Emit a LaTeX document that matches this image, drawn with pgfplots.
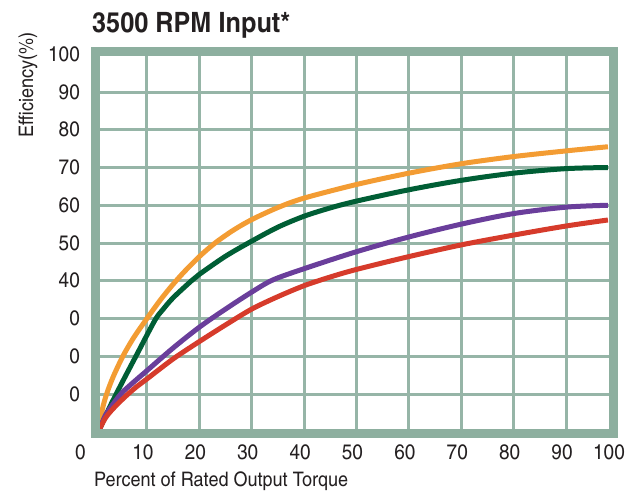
\documentclass[border=0pt]{standalone}
\usepackage{fontspec}
\setmainfont{texgyreheroscn-regular.otf}[FakeStretch=1.1, BoldFont=texgyreheroscn-bold.otf]
\usepackage{pgfplots}
\pgfplotsset{compat=1.18}

\definecolor{framec}{HTML}{8DAF9F}
\definecolor{gridc}{HTML}{96B5A7}
\definecolor{txt}{HTML}{231F20}
\definecolor{orangec}{HTML}{F39C33}
\definecolor{greenc}{HTML}{005E35}
\definecolor{purplec}{HTML}{6A3E9B}
\definecolor{redc}{HTML}{D63B2B}

\begin{document}
\begin{tikzpicture}[x=1pt,y=1pt]
\path[use as bounding box] (0,0) rectangle (640,492);
\begin{axis}[
    at={(95pt,58.5pt)}, anchor=south west,
    scale only axis, width=518pt, height=381.5pt,
    xmin=0.08, xmax=98.97, ymin=-0.46, ymax=100.6,
    clip=false,
    axis line style={draw=none},
    major tick length=0pt,
    grid=major,
    major grid style={gridc, line width=3pt},
    xtick={0.08,10,20,30,40,50,60,70,80,90,98.97},
    xticklabels={0\phantom{00},10,20,30,40,50,60,70,80,90,100},
    ytick={10,20,30,40,50,60,70,80,90,100},
    yticklabels={0,0,0,40,50,60,70,80,90,100},
    /pgf/number format/assume math mode=true,
    xticklabel style={font=\fontsize{21}{24}\selectfont, text=txt, anchor=base, inner sep=0pt, xshift=-4pt, yshift=-26.5pt},
    yticklabel style={font=\fontsize{21}{24}\selectfont, text=txt, anchor=east, inner sep=0pt, xshift=-15pt},
    every axis plot/.append style={line width=5pt, smooth},
]
% orange
\addplot[orangec] coordinates {
 (1,0.8) (1.5,6) (2.3,10) (3.5,14.4) (5.4,20) (7.5,25) (10,30) (12.5,34.8)
 (14.7,38.6) (17,42.2) (20,46.4) (23,50) (26.5,53.4) (30,56.2) (35,59.4)
 (40,61.9) (50,65.5) (60,68.5) (70,71) (80,72.9) (90,74.4) (98,75.5)};
% green
\addplot[greenc] coordinates {
 (1,0.8) (2.9,6.6) (5.5,13.7) (8,20.3) (11.5,29.5) (13,32.3) (15,35.5)
 (18.5,40) (20,41.7) (25,46.5) (30,50.5) (35,54.2) (40,57.1) (45,59.3)
 (50,61.1) (60,64.1) (70,66.6) (80,68.5) (90,69.7) (98,70)};
% purple
\addplot[purplec] coordinates {
 (1,0.8) (2,4.2) (3,6.3) (5,10) (7,12.6) (10,16.2) (15,22.2) (20,27.7)
 (25,32.5) (30,37) (34,40.2) (40,43.2) (50,47.7) (60,51.6) (70,55) (80,57.8)
 (90,59.5) (98,60)};
% red
\addplot[redc] coordinates {
 (1,0.8) (2,3.5) (3,5.3) (4.5,7.5) (6.4,10) (8,11.9) (10,14) (15,19.3)
 (20,23.9) (25,28.3) (30,32.5) (35,35.8) (40,38.7) (45,41) (50,43) (60,46.4)
 (70,49.5) (80,52.1) (90,54.5) (98,56.1)};
% thick frame over the plot area
\draw[framec, line width=9pt] (rel axis cs:0,0) rectangle (rel axis cs:1,1);
\end{axis}
\node[anchor=base west, inner sep=0pt, text=txt, font=\bfseries\fontsize{28}{32}\selectfont] at (92,459) {3500 RPM Input*};
\node[anchor=base east, inner sep=0pt, rotate=90, text=txt, font=\fontsize{20}{24}\selectfont] at (33,460) {Efficiency(\%)};
\node[anchor=base west, inner sep=0pt, text=txt, font=\fontsize{20}{24}\selectfont] at (94,5) {Percent of Rated Output Torque};
\end{tikzpicture}
\end{document}
